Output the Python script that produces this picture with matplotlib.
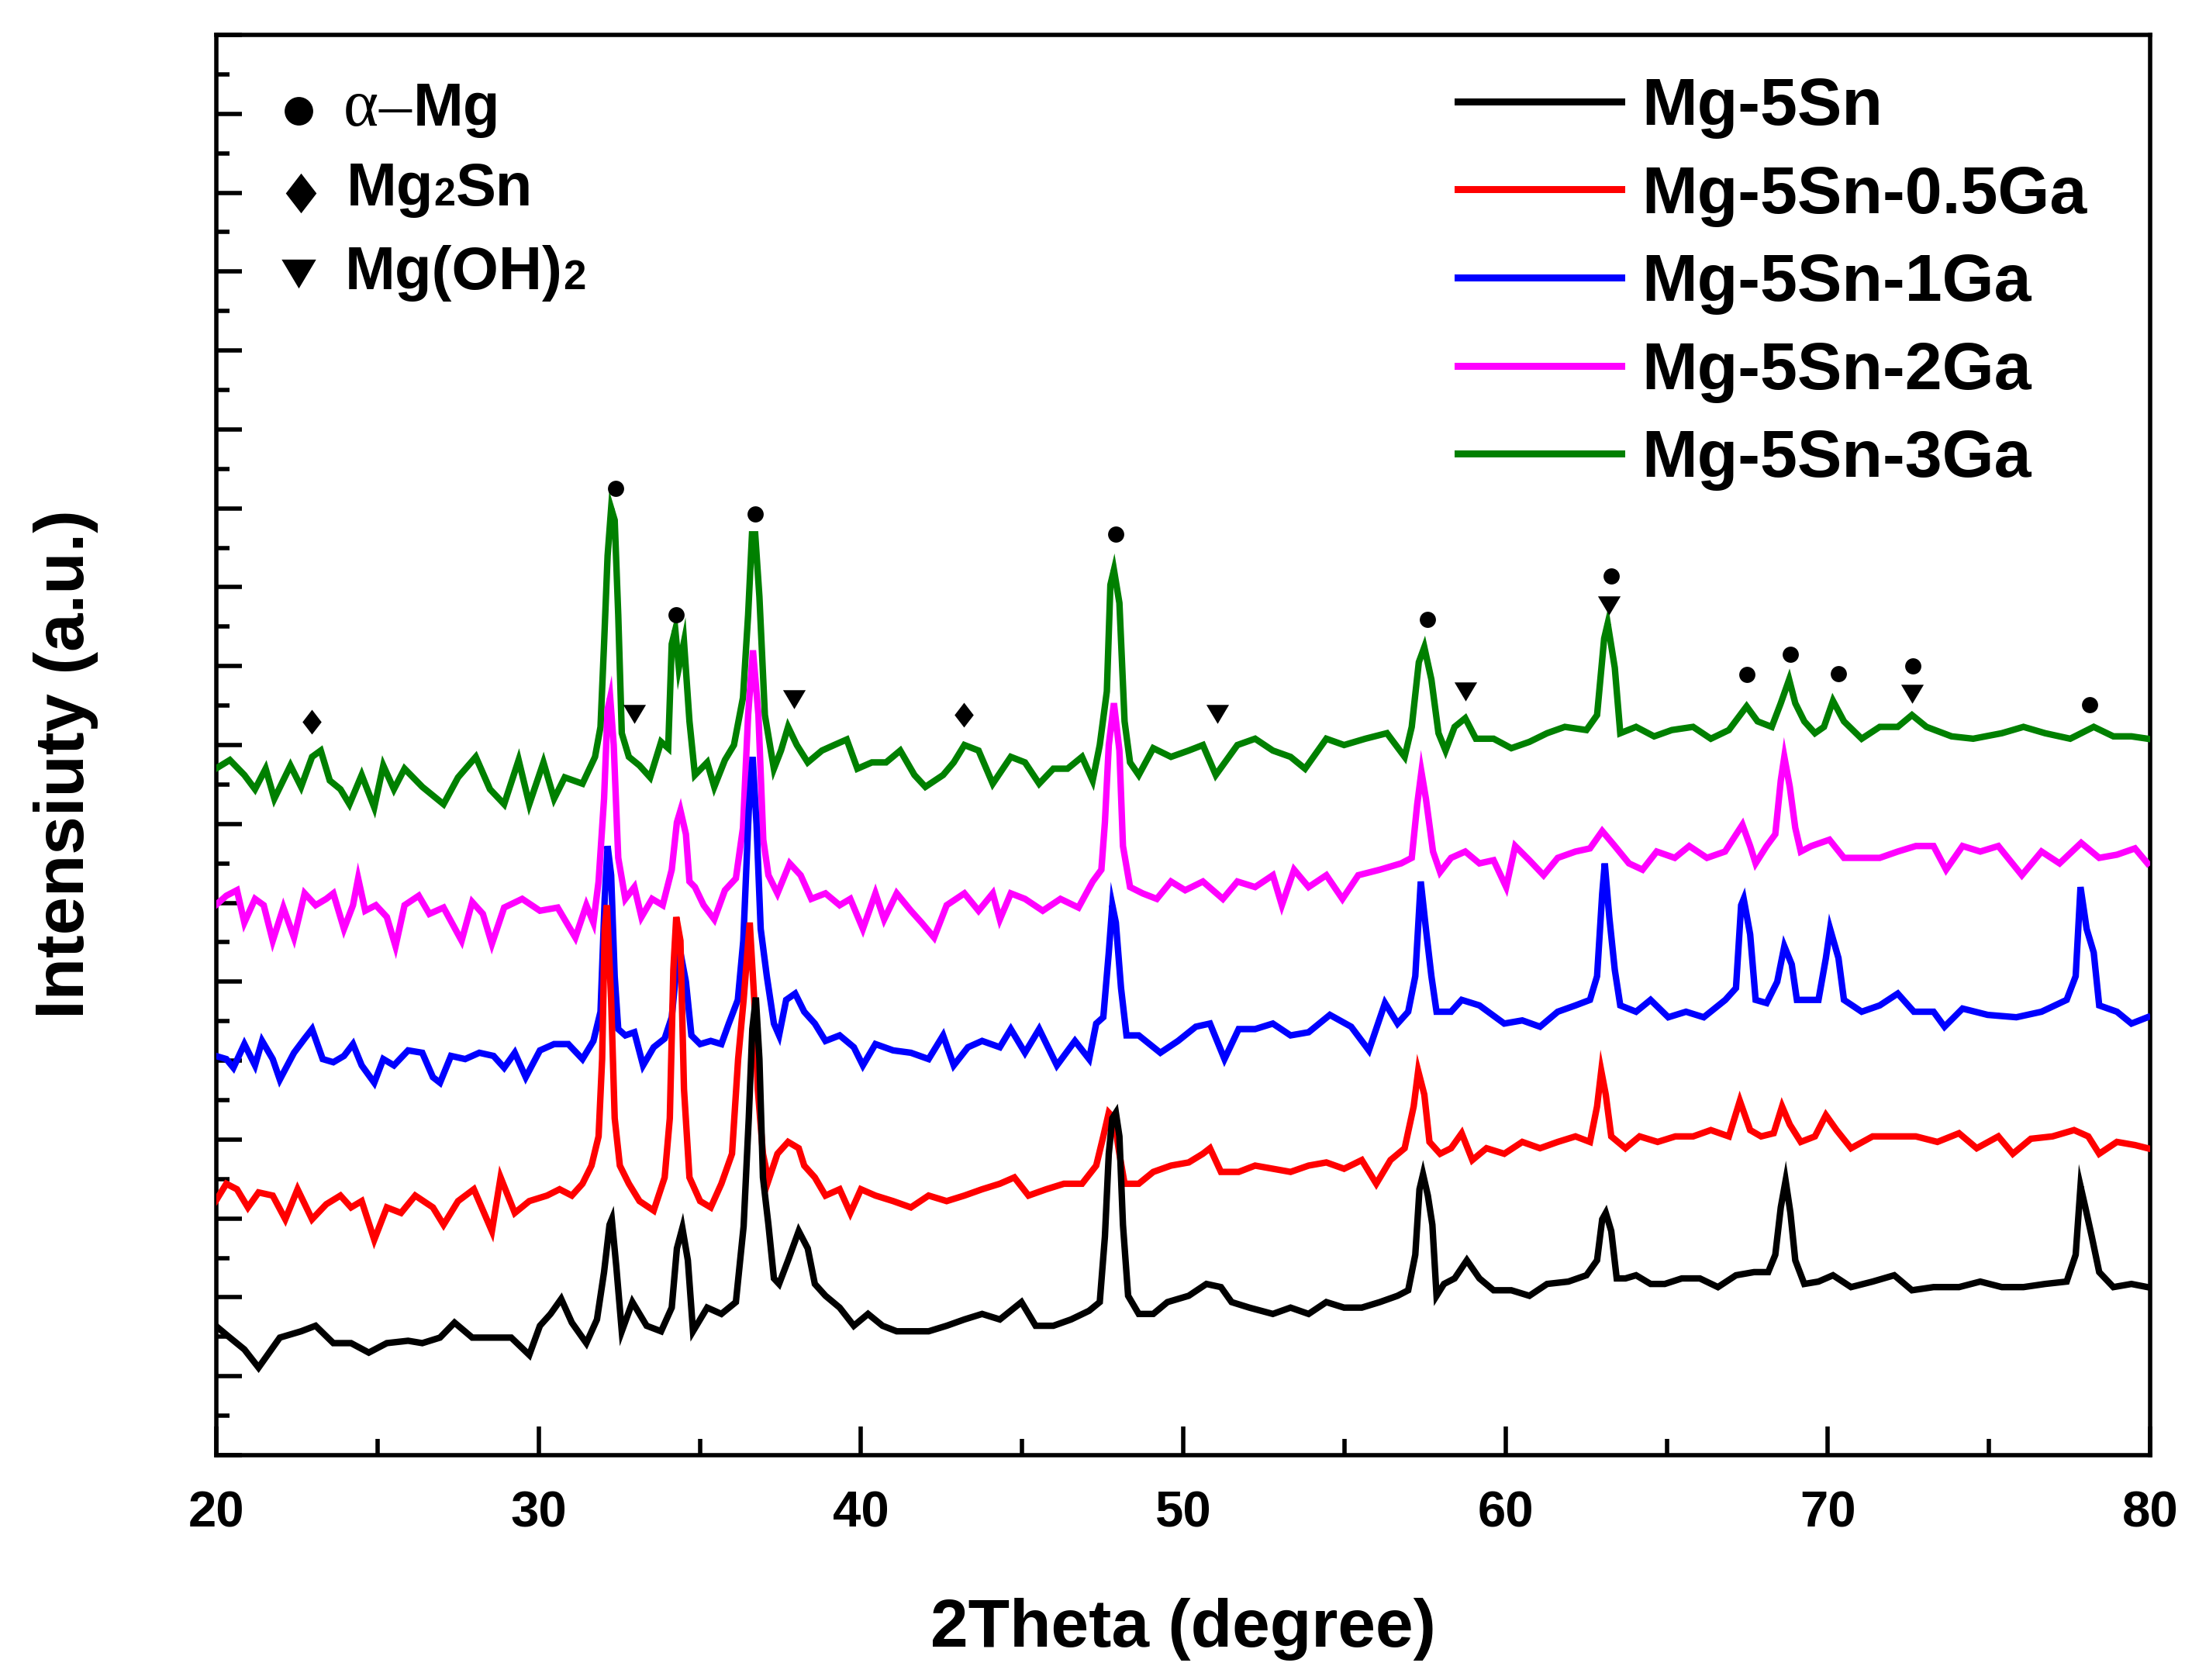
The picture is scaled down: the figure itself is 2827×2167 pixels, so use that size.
import matplotlib
matplotlib.use("Agg")
import matplotlib.pyplot as plt
from matplotlib.path import Path

plt.rcParams['font.family'] = ['Liberation Sans', 'DejaVu Sans']
plt.rcParams['font.weight'] = 'bold'

W, H, DPI = 2827, 2167, 100

# ---- XRD patterns (2theta in degree, intensity in a.u.) ----
tt_5sn = [19.98, 20.42, 20.87, 21.31, 21.97, 22.63, 23.08, 23.63, 24.18, 24.73, 25.29, 25.95, 26.39, 26.94,
          27.39, 27.94, 28.6, 29.15, 29.71, 30.04, 30.37, 30.7, 31.03, 31.48, 31.81, 32.03, 32.2, 32.27, 32.41,
          32.58, 32.91, 33.35, 33.8, 34.13, 34.29, 34.46, 34.63, 34.79, 35.23, 35.67, 36.12, 36.36, 36.52, 36.63,
          36.74, 36.85, 36.96, 37.13, 37.3, 37.46, 37.74, 38.07, 38.35, 38.57, 38.9, 39.34, 39.78, 40.22, 40.67,
          41.11, 41.55, 42.1, 42.66, 43.21, 43.76, 44.31, 44.98, 45.42, 45.97, 46.52, 47.08, 47.41, 47.57, 47.69,
          47.8, 47.91, 48.02, 48.13, 48.29, 48.62, 49.07, 49.51, 50.17, 50.72, 51.17, 51.5, 52.05, 52.78, 53.33,
          53.89, 54.44, 54.99, 55.54, 56.1, 56.65, 56.98, 57.2, 57.33, 57.44, 57.59, 57.73, 57.86, 58.09, 58.42,
          58.8, 59.19, 59.63, 60.18, 60.74, 61.29, 61.95, 62.51, 62.84, 63.0, 63.11, 63.28, 63.45, 63.72, 64.05,
          64.5, 64.94, 65.47, 66.03, 66.59, 67.15, 67.71, 68.15, 68.37, 68.54, 68.69, 68.84, 68.99, 69.27, 69.71,
          70.16, 70.72, 71.39, 72.06, 72.61, 73.28, 74.07, 74.73, 75.4, 76.07, 76.74, 77.41, 77.69, 77.84, 77.99,
          78.19, 78.42, 78.86, 79.42, 79.92]
int_5sn = [1.64, 1.49, 1.34, 1.11, 1.49, 1.57, 1.64, 1.42, 1.42, 1.30, 1.42, 1.45, 1.42, 1.49,
           1.68, 1.49, 1.49, 1.49, 1.27, 1.64, 1.79, 1.98, 1.68, 1.42, 1.72, 2.32, 2.92, 2.99, 2.39,
           1.57, 1.94, 1.64, 1.57, 1.87, 2.62, 2.88, 2.47, 1.57, 1.87, 1.79, 1.94, 2.90, 4.27, 5.40,
           5.80, 5.02, 3.52, 2.92, 2.24, 2.17, 2.47, 2.84, 2.62, 2.17, 2.02, 1.87, 1.64, 1.79, 1.64,
           1.57, 1.57, 1.57, 1.64, 1.72, 1.79, 1.72, 1.94, 1.64, 1.64, 1.72, 1.83, 1.94, 2.77, 3.82,
           4.27, 4.34, 4.04, 2.92, 2.02, 1.79, 1.79, 1.94, 2.02, 2.17, 2.13, 1.94, 1.87, 1.79, 1.87,
           1.79, 1.94, 1.87, 1.87, 1.94, 2.02, 2.09, 2.54, 3.37, 3.56, 3.29, 2.92, 2.02, 2.17, 2.24,
           2.47, 2.24, 2.09, 2.09, 2.02, 2.17, 2.20, 2.28, 2.47, 2.99, 3.07, 2.84, 2.24, 2.24, 2.28,
           2.17, 2.17, 2.24, 2.24, 2.13, 2.28, 2.32, 2.32, 2.54, 3.14, 3.48, 3.07, 2.47, 2.17, 2.20,
           2.28, 2.13, 2.20, 2.28, 2.09, 2.13, 2.13, 2.20, 2.13, 2.13, 2.17, 2.20, 2.54, 3.41, 3.14,
           2.77, 2.32, 2.13, 2.17, 2.13]

tt_05ga = [19.98, 20.31, 20.64, 20.98, 21.31, 21.75, 22.14, 22.52, 22.97, 23.41, 23.85, 24.18, 24.51, 24.9,
           25.29, 25.73, 26.17, 26.72, 27.05, 27.5, 27.99, 28.55, 28.82, 29.26, 29.71, 30.26, 30.65, 31.03,
           31.36, 31.64, 31.86, 31.97, 32.05, 32.12, 32.25, 32.36, 32.52, 32.8, 33.13, 33.57, 33.91, 34.07,
           34.18, 34.27, 34.4, 34.51, 34.68, 35.01, 35.34, 35.67, 36.0, 36.19, 36.36, 36.55, 36.69, 36.8,
           36.96, 37.13, 37.41, 37.74, 38.07, 38.24, 38.57, 38.9, 39.34, 39.67, 40.0, 40.45, 41.0, 41.55,
           42.1, 42.66, 43.21, 43.76, 44.31, 44.76, 45.2, 45.75, 46.3, 46.86, 47.3, 47.52, 47.69, 47.85,
           48.02, 48.18, 48.62, 49.07, 49.62, 50.17, 50.61, 50.83, 51.17, 51.72, 52.23, 52.78, 53.33, 53.89,
           54.44, 54.99, 55.54, 55.99, 56.43, 56.87, 57.15, 57.29, 57.48, 57.64, 57.97, 58.31, 58.64, 58.97,
           59.41, 59.96, 60.52, 61.07, 61.62, 62.17, 62.62, 62.84, 62.97, 63.11, 63.28, 63.72, 64.16, 64.72,
           65.27, 65.82, 66.37, 66.93, 67.27, 67.59, 67.93, 68.32, 68.58, 68.82, 69.16, 69.6, 69.94, 70.27,
           70.72, 71.39, 72.06, 72.73, 73.4, 74.07, 74.62, 75.29, 75.74, 76.3, 76.97, 77.64, 78.08, 78.42,
           78.97, 79.53, 79.92]
int_05ga = [3.22, 3.44, 3.37, 3.14, 3.33, 3.29, 2.99, 3.37, 2.99, 3.18, 3.29, 3.14, 3.22, 2.73,
            3.14, 3.07, 3.29, 3.14, 2.92, 3.22, 3.37, 2.84, 3.52, 3.07, 3.22, 3.29, 3.37, 3.29,
            3.44, 3.67, 4.04, 5.02, 6.67, 6.97, 5.77, 4.27, 3.67, 3.44, 3.22, 3.10, 3.52, 4.27,
            6.15, 6.82, 6.52, 4.64, 3.52, 3.22, 3.14, 3.44, 3.82, 5.02, 5.77, 6.75, 5.77, 4.64,
            3.82, 3.48, 3.82, 3.97, 3.89, 3.67, 3.52, 3.29, 3.37, 3.07, 3.37, 3.29, 3.22, 3.14,
            3.29, 3.22, 3.29, 3.37, 3.44, 3.52, 3.29, 3.37, 3.44, 3.44, 3.67, 4.04, 4.34, 4.27,
            3.82, 3.44, 3.44, 3.59, 3.67, 3.71, 3.82, 3.89, 3.59, 3.59, 3.67, 3.63, 3.59, 3.67,
            3.71, 3.63, 3.74, 3.44, 3.74, 3.89, 4.42, 4.87, 4.57, 3.97, 3.82, 3.89, 4.08, 3.74,
            3.89, 3.82, 3.97, 3.89, 3.97, 4.04, 3.97, 4.42, 4.87, 4.57, 4.04, 3.89, 4.04, 3.97,
            4.04, 4.04, 4.12, 4.04, 4.49, 4.12, 4.04, 4.08, 4.42, 4.19, 3.97, 4.04, 4.31, 4.12,
            3.89, 4.04, 4.04, 4.04, 3.97, 4.08, 3.89, 4.04, 3.82, 4.01, 4.04, 4.12, 4.04, 3.82,
            3.97, 3.93, 3.89]

tt_1ga = [19.98, 20.31, 20.53, 20.87, 21.2, 21.42, 21.75, 21.97, 22.41, 22.74, 22.97, 23.3, 23.63, 23.96,
          24.24, 24.51, 24.9, 25.18, 25.51, 25.95, 26.39, 26.72, 26.94, 27.28, 27.72, 28.16, 28.6, 28.93,
          29.26, 29.6, 30.04, 30.48, 30.92, 31.36, 31.7, 31.92, 32.05, 32.14, 32.25, 32.36, 32.47, 32.69,
          32.97, 33.24, 33.57, 33.91, 34.13, 34.29, 34.4, 34.57, 34.74, 35.01, 35.34, 35.67, 35.9, 36.18,
          36.35, 36.52, 36.64, 36.76, 36.89, 37.08, 37.3, 37.46, 37.68, 37.96, 38.24, 38.57, 38.9, 39.34,
          39.78, 40.06, 40.45, 41.0, 41.55, 42.1, 42.55, 42.88, 43.32, 43.76, 44.31, 44.65, 45.09, 45.53,
          46.08, 46.64, 47.08, 47.3, 47.52, 47.69, 47.8, 47.91, 48.07, 48.24, 48.62, 49.29, 49.84, 50.39,
          50.83, 51.28, 51.72, 52.23, 52.78, 53.33, 53.89, 54.55, 55.21, 55.76, 56.26, 56.65, 56.98, 57.2,
          57.37, 57.53, 57.7, 57.86, 58.31, 58.64, 59.19, 59.96, 60.52, 61.07, 61.62, 62.17, 62.62, 62.84,
          63.0, 63.08, 63.22, 63.39, 63.56, 64.05, 64.5, 65.05, 65.6, 66.15, 66.82, 67.15, 67.31, 67.39,
          67.59, 67.76, 68.1, 68.43, 68.65, 68.88, 69.04, 69.38, 69.71, 69.94, 70.07, 70.33, 70.5, 71.05,
          71.61, 72.17, 72.67, 73.28, 73.62, 74.18, 74.96, 75.85, 76.63, 77.41, 77.69, 77.84, 78.03, 78.25,
          78.42, 78.97, 79.42, 79.92]
int_1ga = [5.06, 5.02, 4.91, 5.21, 4.94, 5.25, 5.02, 4.76, 5.10, 5.28, 5.40, 5.02, 4.98, 5.06,
           5.21, 4.94, 4.72, 5.02, 4.94, 5.13, 5.10, 4.79, 4.72, 5.06, 5.02, 5.10, 5.06, 4.91,
           5.10, 4.79, 5.13, 5.21, 5.21, 5.02, 5.25, 5.62, 7.05, 7.72, 7.35, 6.07, 5.40, 5.32,
           5.36, 4.94, 5.17, 5.28, 5.55, 6.22, 6.37, 6.00, 5.32, 5.21, 5.25, 5.21, 5.47, 5.77,
           6.52, 8.17, 8.85, 8.00, 6.67, 6.07, 5.47, 5.32, 5.77, 5.85, 5.62, 5.47, 5.25, 5.32,
           5.17, 4.94, 5.21, 5.13, 5.10, 5.02, 5.32, 4.94, 5.17, 5.25, 5.17, 5.40, 5.10, 5.40,
           4.94, 5.25, 5.02, 5.47, 5.55, 6.37, 6.97, 6.75, 5.92, 5.32, 5.32, 5.10, 5.25, 5.43,
           5.47, 5.02, 5.40, 5.40, 5.47, 5.32, 5.36, 5.58, 5.43, 5.13, 5.73, 5.47, 5.62, 6.07,
           7.27, 6.67, 6.07, 5.62, 5.62, 5.77, 5.70, 5.47, 5.51, 5.43, 5.62, 5.70, 5.77, 6.07,
           7.12, 7.50, 6.82, 6.15, 5.70, 5.62, 5.77, 5.55, 5.62, 5.55, 5.77, 5.92, 6.97, 7.05,
           6.60, 5.77, 5.73, 6.00, 6.45, 6.22, 5.77, 5.77, 5.77, 6.30, 6.67, 6.30, 5.77, 5.62,
           5.70, 5.85, 5.62, 5.62, 5.43, 5.66, 5.58, 5.55, 5.62, 5.77, 6.07, 7.20, 6.67, 6.37,
           5.70, 5.62, 5.47, 5.55]

tt_2ga = [19.98, 20.31, 20.64, 20.87, 21.2, 21.47, 21.75, 22.08, 22.41, 22.74, 23.08, 23.41, 23.63, 23.96,
          24.24, 24.4, 24.62, 24.95, 25.29, 25.56, 25.84, 26.28, 26.61, 27.05, 27.61, 27.94, 28.27, 28.55,
          28.93, 29.49, 30.04, 30.59, 31.14, 31.48, 31.7, 31.86, 32.03, 32.14, 32.22, 32.33, 32.47, 32.69,
          32.97, 33.19, 33.52, 33.85, 34.13, 34.29, 34.4, 34.57, 34.68, 34.85, 35.12, 35.45, 35.78, 36.12,
          36.34, 36.5, 36.65, 36.82, 36.97, 37.13, 37.41, 37.79, 38.13, 38.46, 38.9, 39.34, 39.67, 40.06,
          40.45, 40.72, 41.11, 41.55, 41.88, 42.27, 42.66, 43.21, 43.65, 44.09, 44.31, 44.65, 45.09, 45.64,
          46.19, 46.75, 47.19, 47.46, 47.57, 47.69, 47.85, 48.02, 48.13, 48.35, 48.74, 49.18, 49.62, 50.06,
          50.61, 51.23, 51.68, 52.23, 52.78, 53.06, 53.44, 53.89, 54.44, 54.94, 55.43, 56.1, 56.76, 57.09,
          57.26, 57.39, 57.53, 57.75, 57.97, 58.31, 58.75, 59.19, 59.63, 60.02, 60.3, 60.74, 61.18, 61.62,
          62.17, 62.62, 63.0, 63.39, 63.83, 64.25, 64.69, 65.25, 65.7, 66.25, 66.81, 67.35, 67.59, 67.76,
          68.1, 68.37, 68.54, 68.65, 68.82, 68.99, 69.16, 69.49, 70.05, 70.5, 71.05, 71.61, 72.17, 72.73,
          73.28, 73.67, 74.18, 74.73, 75.29, 76.02, 76.63, 77.19, 77.86, 78.42, 78.97, 79.53, 79.92]
int_2ga = [6.97, 7.09, 7.16, 6.75, 7.05, 6.97, 6.52, 6.94, 6.56, 7.12, 6.97, 7.05, 7.12, 6.67,
           6.97, 7.31, 6.90, 6.97, 6.82, 6.45, 6.97, 7.09, 6.86, 6.94, 6.52, 7.01, 6.86, 6.48,
           6.94, 7.05, 6.90, 6.94, 6.56, 6.97, 6.75, 7.27, 8.32, 9.45, 9.60, 9.00, 7.57, 7.05,
           7.20, 6.82, 7.05, 6.97, 7.42, 8.02, 8.17, 7.87, 7.27, 7.20, 6.97, 6.79, 7.16, 7.31,
           7.95, 9.38, 10.20, 9.38, 7.80, 7.35, 7.12, 7.50, 7.35, 7.05, 7.12, 6.97, 7.05, 6.67,
           7.12, 6.79, 7.12, 6.90, 6.75, 6.56, 6.97, 7.12, 6.90, 7.12, 6.79, 7.12, 7.05, 6.90,
           7.05, 6.94, 7.27, 7.42, 8.02, 9.00, 9.53, 8.93, 7.72, 7.20, 7.12, 7.05, 7.27, 7.16,
           7.27, 7.05, 7.27, 7.20, 7.35, 6.97, 7.42, 7.20, 7.35, 7.05, 7.35, 7.42, 7.50, 7.57,
           8.25, 8.66, 8.32, 7.65, 7.39, 7.57, 7.65, 7.50, 7.54, 7.20, 7.72, 7.54, 7.35, 7.57,
           7.65, 7.69, 7.91, 7.72, 7.50, 7.42, 7.65, 7.57, 7.72, 7.57, 7.65, 7.99, 7.72, 7.50,
           7.72, 7.87, 8.55, 8.85, 8.47, 7.95, 7.65, 7.72, 7.80, 7.57, 7.57, 7.57, 7.65, 7.72,
           7.72, 7.42, 7.72, 7.65, 7.72, 7.35, 7.65, 7.50, 7.76, 7.57, 7.61, 7.69, 7.50]

tt_3ga = [19.98, 20.42, 20.87, 21.2, 21.53, 21.8, 22.3, 22.63, 22.97, 23.24, 23.52, 23.85, 24.13, 24.51,
          24.9, 25.18, 25.51, 25.84, 26.39, 27.05, 27.5, 28.05, 28.49, 28.93, 29.38, 29.71, 30.15, 30.48,
          30.81, 31.36, 31.75, 31.92, 32.03, 32.14, 32.25, 32.36, 32.47, 32.58, 32.8, 33.13, 33.46, 33.8,
          34.02, 34.13, 34.24, 34.35, 34.51, 34.68, 34.85, 35.23, 35.45, 35.78, 36.06, 36.34, 36.5, 36.62,
          36.72, 36.85, 37.02, 37.3, 37.52, 37.74, 38.01, 38.35, 38.79, 39.17, 39.56, 39.89, 40.34, 40.78,
          41.22, 41.66, 42.0, 42.55, 42.88, 43.21, 43.65, 44.09, 44.65, 45.09, 45.53, 45.97, 46.41, 46.86,
          47.19, 47.41, 47.63, 47.74, 47.85, 48.02, 48.18, 48.35, 48.62, 49.07, 49.62, 50.17, 50.61, 51.01,
          51.68, 52.23, 52.78, 53.33, 53.78, 54.44, 54.99, 55.65, 56.32, 56.87, 57.09, 57.31, 57.48, 57.7,
          57.92, 58.14, 58.42, 58.75, 59.08, 59.63, 60.18, 60.74, 61.29, 61.84, 62.51, 62.84, 63.06, 63.17,
          63.39, 63.56, 64.05, 64.61, 65.16, 65.82, 66.37, 66.93, 67.48, 67.82, 68.26, 68.54, 68.8, 68.99,
          69.27, 69.6, 69.88, 70.16, 70.5, 71.05, 71.61, 72.17, 72.61, 73.06, 73.84, 74.51, 75.4, 76.07,
          76.74, 77.52, 78.25, 78.86, 79.42, 79.92]
int_3ga = [8.70, 8.81, 8.62, 8.44, 8.70, 8.32, 8.74, 8.47, 8.85, 8.93, 8.55, 8.44, 8.25, 8.62,
           8.21, 8.74, 8.44, 8.70, 8.47, 8.25, 8.59, 8.85, 8.44, 8.25, 8.81, 8.25, 8.78, 8.32,
           8.59, 8.51, 8.85, 9.23, 10.28, 11.40, 12.00, 11.85, 10.65, 9.15, 8.85, 8.74, 8.59, 9.04,
           8.96, 10.28, 10.46, 9.98, 10.31, 9.30, 8.62, 8.78, 8.47, 8.81, 9.00, 9.60, 10.65, 11.67,
           11.67, 10.88, 9.38, 8.70, 8.93, 9.23, 9.00, 8.78, 8.93, 9.00, 9.07, 8.70, 8.78, 8.78,
           8.93, 8.62, 8.47, 8.62, 8.78, 9.00, 8.93, 8.51, 8.85, 8.78, 8.51, 8.70, 8.70, 8.85,
           8.55, 9.00, 9.68, 11.03, 11.22, 10.80, 9.30, 8.78, 8.62, 8.96, 8.85, 8.93, 9.00, 8.62,
           9.00, 9.08, 8.93, 8.85, 8.70, 9.08, 9.00, 9.08, 9.15, 8.85, 9.23, 10.05, 10.24, 9.83,
           9.15, 8.93, 9.23, 9.34, 9.08, 9.08, 8.96, 9.04, 9.15, 9.23, 9.19, 9.38, 10.35, 10.54,
           9.98, 9.15, 9.23, 9.11, 9.19, 9.23, 9.08, 9.19, 9.49, 9.30, 9.23, 9.53, 9.83, 9.53,
           9.30, 9.15, 9.23, 9.56, 9.30, 9.08, 9.23, 9.23, 9.38, 9.23, 9.11, 9.08, 9.15, 9.23,
           9.15, 9.08, 9.23, 9.11, 9.11, 9.08]

# phase markers placed above the Mg-5Sn-3Ga pattern
alpha_mg_x = [32.39, 34.27, 36.73, 47.91, 57.57, 63.28, 67.5, 68.84, 70.33, 72.64, 78.12]
alpha_mg_y = [12.25, 10.65, 11.93, 11.67, 10.59, 11.14, 9.89, 10.15, 9.90, 10.00, 9.51]
mg2sn_x = [22.97, 43.19]
mg2sn_y = [9.29, 9.38]
mgoh2_x = [32.97, 37.93, 51.06, 58.75, 63.2, 72.61]
mgoh2_y = [9.39, 9.58, 9.39, 9.68, 10.77, 9.65]

labels = ["Mg-5Sn", "Mg-5Sn-0.5Ga", "Mg-5Sn-1Ga", "Mg-5Sn-2Ga", "Mg-5Sn-3Ga"]
colors = ["black", "#ff0000", "#0000ff", "#ff00ff", "#008000"]
xs = [tt_5sn, tt_05ga, tt_1ga, tt_2ga, tt_3ga]
ys = [int_5sn, int_05ga, int_1ga, int_2ga, int_3ga]

diamond = Path([(0, 1), (0.77, 0), (0, -1), (-0.77, 0), (0, 1)], closed=True)
tri_down = Path([(-1, 0.84), (1, 0.84), (0, -0.84), (-1, 0.84)], closed=True)

fig = plt.figure(figsize=(W / DPI, H / DPI), dpi=DPI)
ax = fig.add_axes([279 / W, 1 - 1877 / H, (2773 - 279) / W, (1877 - 45) / H])

for i, (lab, col, x, y) in enumerate(zip(labels, colors, xs, ys)):
    ax.plot(x, y, color=col, lw=6, label=lab, zorder=10 - i, solid_joinstyle='miter')

ax.plot(alpha_mg_x, alpha_mg_y, 'o', color='black', ms=15, mew=0, zorder=12)
ax.plot(mg2sn_x, mg2sn_y, marker=diamond, ls='none', color='black', ms=23, mew=0, zorder=12)
ax.plot(mgoh2_x, mgoh2_y, marker=tri_down, ls='none', color='black', ms=21, mew=0, zorder=12)

ax.set_xlim(20, 80)
ax.set_ylim(0, 18)
ax.set_xticks(range(20, 81, 10))
ax.set_xticks(range(25, 80, 10), minor=True)
ax.set_yticks(range(0, 19))
ax.set_yticks([k + 0.5 for k in range(18)], minor=True)
ax.tick_params(which='both', direction='in', top=False, right=False, width=4, color='black')
ax.tick_params(axis='x', which='major', length=27, labelsize=47, pad=33)
ax.tick_params(axis='x', which='minor', length=15)
ax.tick_params(axis='y', which='major', length=24, labelleft=False)
ax.tick_params(axis='y', which='minor', length=12)
for s in ax.spines.values():
    s.set_linewidth(4)

fig.text(1526 / W, 1 - 2101 / H, "2Theta (degree)", fontsize=63, ha='center', va='center')
fig.text(85 / W, 1 - 986 / H, "Intensiuty (a.u.)", fontsize=64, rotation=90, ha='center', va='center')

leg = ax.legend(loc='upper left', bbox_to_anchor=(1880 / W, 1 - 99 / H), bbox_transform=fig.transFigure,
                frameon=False, fontsize=62, handlelength=2.45, handletextpad=0.31, labelspacing=0.39,
                borderpad=0, borderaxespad=0)
for ln in leg.get_lines():
    ln.set_linewidth(6.5)

# phase key, upper left
fig.canvas.draw()
rend = fig.canvas.get_renderer()
key_ax = fig.add_axes([0, 0, 1, 1], facecolor='none')
key_ax.set_xlim(0, W)
key_ax.set_ylim(H, 0)
key_ax.axis('off')
key_ax.plot([385], [143], 'o', color='black', ms=26.5, mew=0)
key_ax.plot([388], [249], marker=diamond, color='black', ms=37, mew=0)
key_ax.plot([385], [353], marker=tri_down, color='black', ms=32, mew=0)


def put_parts(x0, base, parts):
    x = x0
    for txt, size in parts:
        t = key_ax.text(x, base, txt, fontsize=size, ha='left', va='baseline')
        x = t.get_window_extent(rend).x1


key_ax.text(443, 162, "\u03b1", fontsize=62, family='Liberation Serif', weight='normal', va='baseline')
key_ax.text(488, 162, "\u2013", fontsize=60, family='Liberation Serif', weight='normal', va='baseline')
key_ax.text(533, 162, "Mg", fontsize=56, va='baseline')
put_parts(447, 265, [("Mg", 56), ("2", 36), ("Sn", 56)])
put_parts(445, 373, [("Mg(OH)", 56), ("2", 38)])

fig.savefig("out.png", dpi=DPI)
